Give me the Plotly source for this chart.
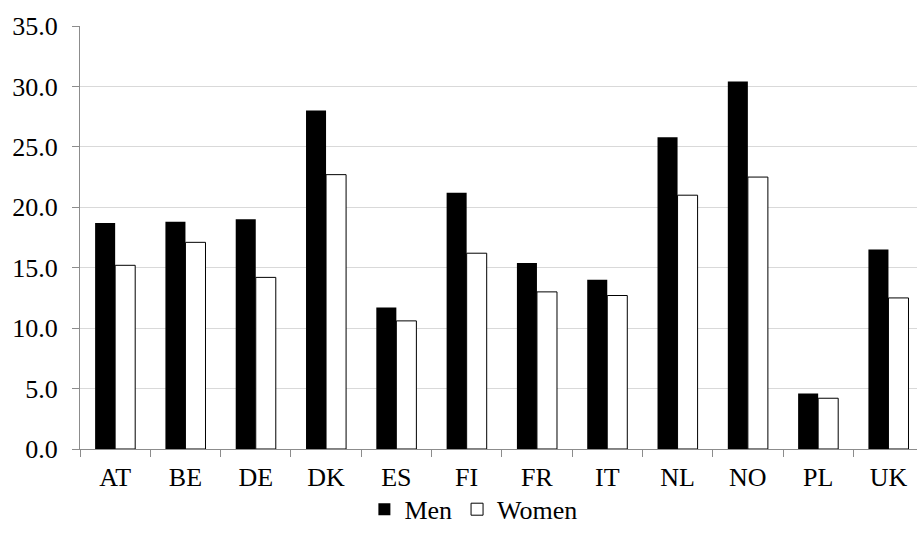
import plotly.graph_objects as go

countries = ["AT", "BE", "DE", "DK", "ES", "FI", "FR", "IT", "NL", "NO", "PL", "UK"]
men = [18.7, 18.8, 19.0, 28.0, 11.7, 21.2, 15.4, 14.0, 25.8, 30.4, 4.6, 16.5]
women = [15.2, 17.1, 14.2, 22.7, 10.6, 16.2, 13.0, 12.7, 21.0, 22.5, 4.2, 12.5]
y_ticks = [0, 5, 10, 15, 20, 25, 30, 35]

FONT = "Liberation Serif"
AXIS_GREY = "#8c8c8c"
FS = 26

fig = go.Figure()
fig.add_trace(go.Bar(
    x=countries, y=men, name="Men",
    marker=dict(color="black", line=dict(color="black", width=0)),
))
fig.add_trace(go.Bar(
    x=countries, y=women, name="Women",
    marker=dict(color="white", line=dict(color="black", width=1)),
))

fig.update_layout(
    width=917, height=544,
    margin=dict(l=80, r=0, t=26, b=95),
    paper_bgcolor="white", plot_bgcolor="white",
    barmode="group", bargap=0.43, bargroupgap=0,
    font=dict(family=FONT, size=FS, color="black"),
    showlegend=True,
    legend=dict(orientation="h", x=0.47, xanchor="center", y=-0.087, yanchor="top",
                bgcolor="rgba(0,0,0,0)",
                font=dict(family=FONT, size=FS, color="black"), itemwidth=30,
                traceorder="normal", tracegroupgap=0),
)
fig.update_xaxes(
    type="category", range=[-0.5, 11.406],
    showline=True, linecolor=AXIS_GREY, linewidth=1,
    ticks="outside", tickson="boundaries", ticklen=7, tickcolor=AXIS_GREY,
    showgrid=False, zeroline=False, ticklabelstandoff=5,
    tickfont=dict(family=FONT, size=FS),
)
fig.update_yaxes(
    range=[0, 35], tickvals=y_ticks, tickformat=".1f",
    showline=True, linecolor=AXIS_GREY, linewidth=1,
    ticks="outside", ticklen=7, tickcolor=AXIS_GREY,
    showgrid=True, gridcolor="#d9d9d9", gridwidth=1,
    zeroline=False, ticklabelstandoff=9,
    tickfont=dict(family=FONT, size=FS),
)

fig.write_html("out.html")
